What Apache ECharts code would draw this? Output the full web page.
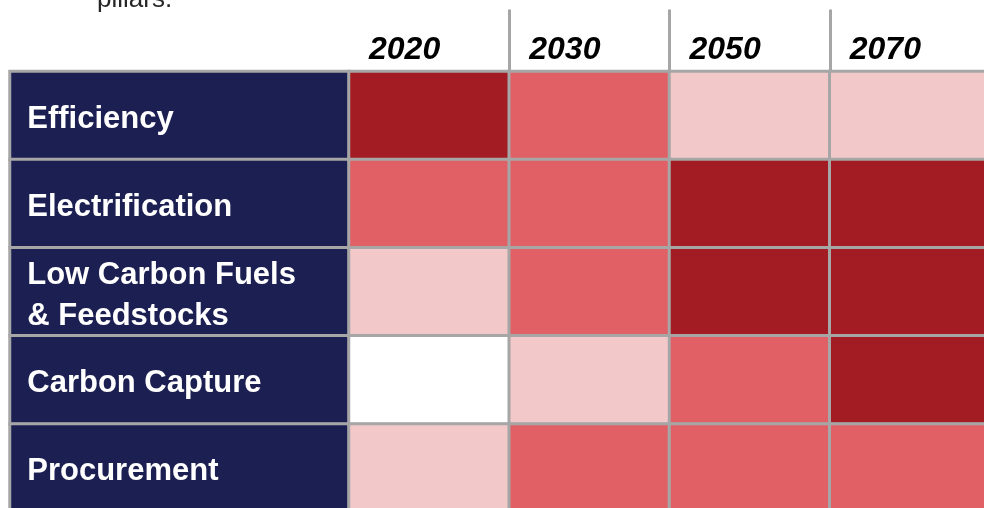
<!DOCTYPE html>
<html>
<head>
<meta charset="utf-8">
<script src="https://cdn.jsdelivr.net/npm/echarts@6/dist/echarts.min.js"></script>
<style>
html,body{margin:0;padding:0;background:#fff;}
#c{width:984px;height:508px;}
</style>
</head>
<body>
<div id="c"></div>
<script>
// ---- data ----
const years = ['2020', '2030', '2050', '2070'];
const pillars = ['Efficiency', 'Electrification', 'Low Carbon Fuels\n& Feedstocks', 'Carbon Capture', 'Procurement'];
// importance level: 0 = none, 1 = low, 2 = medium, 3 = high
const efficiency      = [3, 2, 1, 1];
const electrification = [2, 2, 3, 3];
const lowCarbonFuels  = [1, 2, 3, 3];
const carbonCapture   = [0, 1, 2, 3];
const procurement     = [1, 2, 2, 2];
const headerNote = 'pillars.';

const levels = [efficiency, electrification, lowCarbonFuels, carbonCapture, procurement];
const cells = [];
levels.forEach((row, r) => row.forEach((v, c) => cells.push([c, r, v])));
const labelCells = pillars.map((p, r) => ({ value: [0, r, 0], name: p }));

const FONT = "'Liberation Sans', Arial, sans-serif";
const GRAY = '#A6A6A6';

const chart = echarts.init(document.getElementById('c'), null, { renderer: 'canvas' });
chart.setOption({
  animation: false,
  backgroundColor: '#ffffff',
  title: {
    text: headerNote,
    left: 97,
    top: -13,
    padding: 0,
    textStyle: { fontFamily: FONT, fontSize: 26, fontWeight: 'normal', color: '#262626' }
  },
  grid: [
    { left: 10, top: 71.5, width: 339, bottom: -4, outerBoundsMode: 'none', containLabel: false },
    { left: 349, top: 71.5, right: -6, bottom: -4, outerBoundsMode: 'none', containLabel: false }
  ],
  xAxis: [
    { gridIndex: 0, type: 'category', data: ['label'], show: false },
    { gridIndex: 1, type: 'category', data: years, show: false },
    {
      gridIndex: 1, type: 'category', position: 'top',
      data: years.concat(['']), boundaryGap: false,
      axisLine: { show: false },
      axisTick: {
        show: true, length: 62, interval: (i) => i > 0 && i < years.length,
        lineStyle: { color: GRAY, width: 3 }
      },
      axisLabel: {
        show: true, align: 'left', padding: [0, 0, 0, 20], margin: 5,
        interval: 0,
        fontFamily: FONT, fontSize: 32, fontWeight: 'bold', fontStyle: 'italic', color: '#000'
      },
      splitLine: { show: false }
    }
  ],
  yAxis: [
    { gridIndex: 0, type: 'category', data: pillars, inverse: true, show: false },
    { gridIndex: 1, type: 'category', data: pillars, inverse: true, show: false }
  ],
  visualMap: {
    type: 'piecewise', show: false, seriesIndex: 1, dimension: 2,
    pieces: [
      { value: 0, color: '#FFFFFF' },
      { value: 1, color: '#F3C8C9' },
      { value: 2, color: '#E06066' },
      { value: 3, color: '#A31C23' }
    ]
  },
  series: [
    {
      type: 'heatmap', xAxisIndex: 0, yAxisIndex: 0, data: labelCells,
      itemStyle: { color: '#1C1F52', borderColor: GRAY, borderWidth: 3 },
      label: {
        show: true, position: 'insideLeft', distance: 19, offset: [0, 4],
        formatter: (p) => p.name,
        fontFamily: FONT, fontSize: 31, fontWeight: 'bold', color: '#fff', lineHeight: 41
      },
      emphasis: { disabled: true }
    },
    {
      type: 'heatmap', xAxisIndex: 1, yAxisIndex: 1, data: cells,
      itemStyle: { borderColor: GRAY, borderWidth: 3 },
      label: { show: false },
      emphasis: { disabled: true }
    }
  ]
});
</script>
</body>
</html>
